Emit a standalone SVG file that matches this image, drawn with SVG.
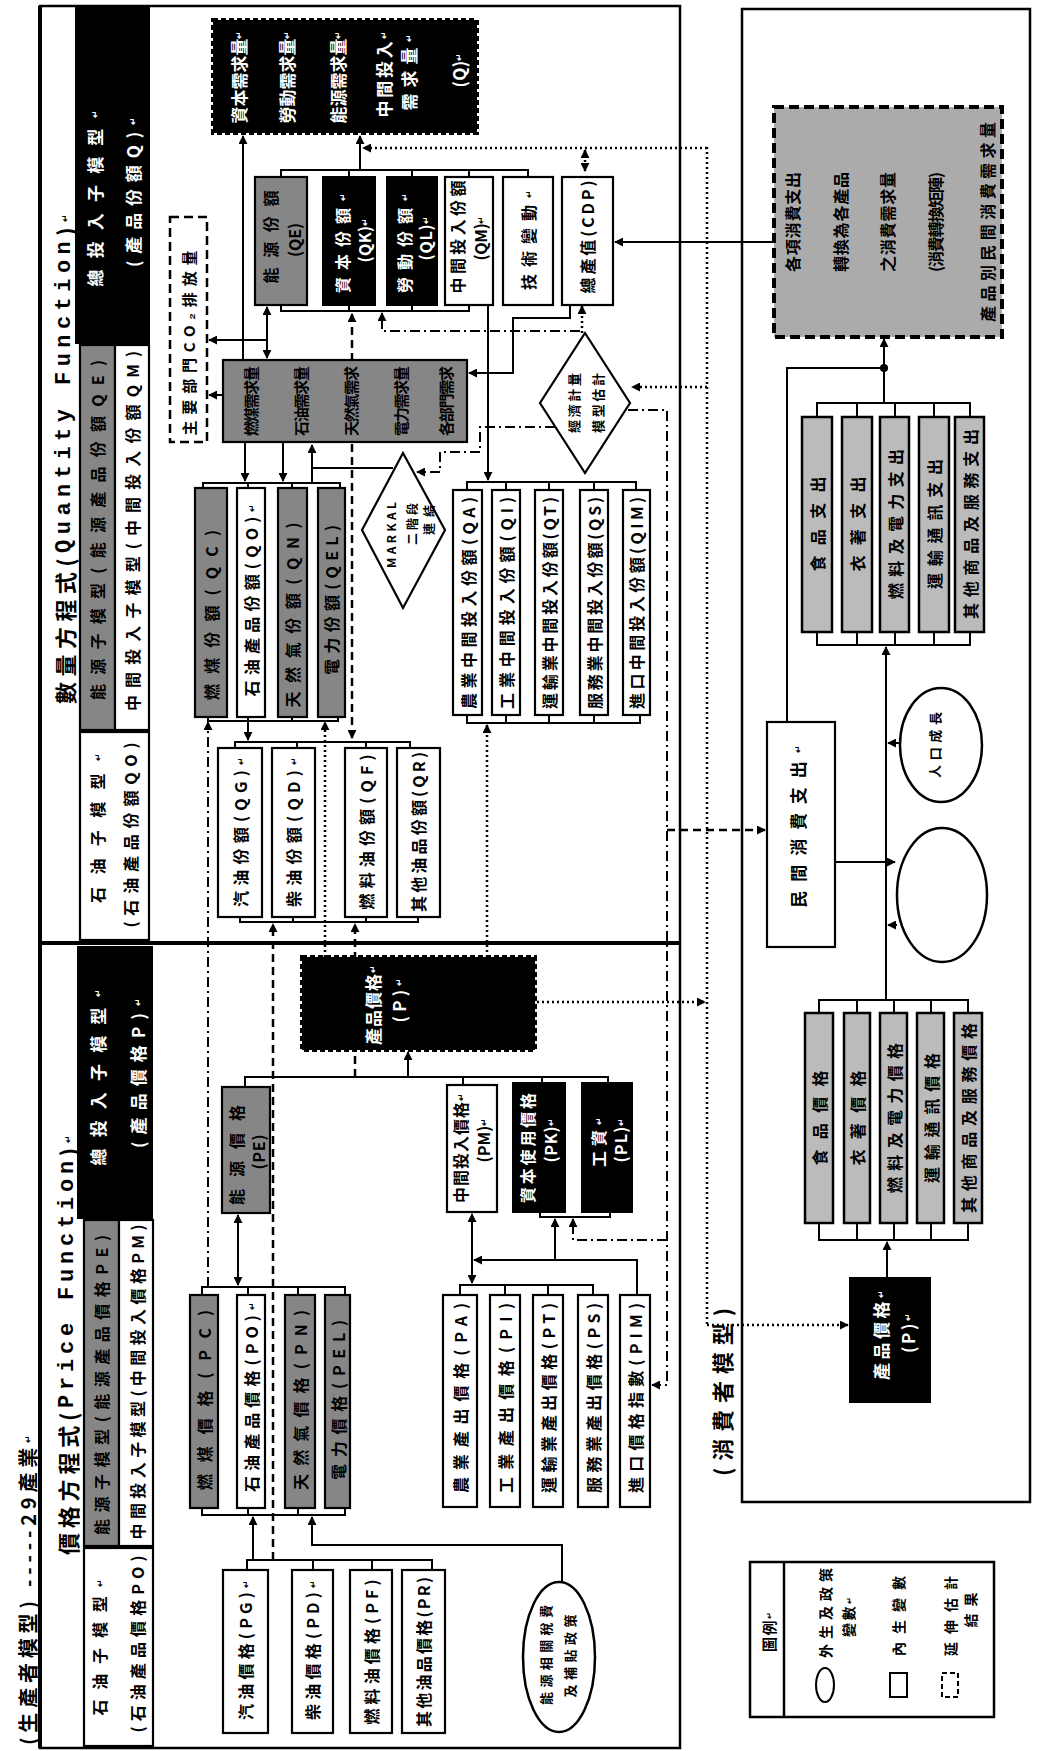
<svg xmlns="http://www.w3.org/2000/svg" width="1037" height="1751" viewBox="0 0 1037 1751">
<defs>
<marker id="a" viewBox="0 0 10 10" refX="9" refY="5" markerWidth="9" markerHeight="9" markerUnits="userSpaceOnUse" orient="auto-start-reverse"><path d="M0,0 L10,5 L0,10 z" fill="#000"/></marker>
</defs>
<style>
text{font-family:"Noto Sans CJK TC","Noto Sans CJK SC",sans-serif;font-weight:700;dominant-baseline:central;text-anchor:middle;fill:#000}
.w{fill:#fff}
.m{font-family:"Liberation Mono",monospace}
.bx{fill:#fff;stroke:#000;stroke-width:2.2}
.bk{fill:#000;stroke:#000;stroke-width:2}
.jag{fill:#000;stroke:#000;stroke-width:4;stroke-dasharray:5 3}
.gy{fill:#868686;stroke:#000;stroke-width:2.2}
.gc{fill:#bbbbbb;stroke:#000;stroke-width:2.5}
.ln{fill:none;stroke:#000;stroke-width:2}
.dot{stroke-dasharray:2 3;stroke-width:2.5}
.dsh{stroke-dasharray:8 5;stroke-width:2.5}
.dd{stroke-dasharray:10 4 2 4}
.ar{marker-end:url(#a)}
.ar2{marker-start:url(#a);marker-end:url(#a)}
.fr{fill:none;stroke:#000;stroke-width:2.5}
</style>
<rect width="1037" height="1751" fill="#fff"/>

<g id="frames">
<rect class="fr" x="40" y="6" width="640" height="1742"/>
<line x1="40" y1="6" x2="40" y2="1748" stroke="#000" stroke-width="4"/>
<line x1="40" y1="943" x2="680" y2="943" stroke="#000" stroke-width="4"/>
<rect class="fr" x="742" y="9" width="288" height="1493"/>
</g>

<g id="titles">
<text transform="translate(27,1590) rotate(-90)" font-size="20" textLength="310">(生產者模型) -----29產業<tspan font-size="9">↵</tspan></text>
<text transform="translate(64,459) rotate(-90)" font-size="22" textLength="490">數量方程式(<tspan class="m">Quantity Function</tspan>)<tspan font-size="9">↵</tspan></text>
<text transform="translate(67,1345) rotate(-90)" font-size="22" textLength="420">價格方程式(<tspan class="m">Price Function</tspan>)<tspan font-size="9">↵</tspan></text>
<text transform="translate(721,1392) rotate(-90)" font-size="22" textLength="168">(消費者模型)</text>
</g>

<g id="headers">
<rect class="bk" x="76" y="8" width="73" height="335"/>
<text class="w" transform="translate(94,198) rotate(-90)" font-size="17" textLength="177">總投入子模型<tspan font-size="9">↵</tspan></text>
<text class="w" transform="translate(132,192) rotate(-90)" font-size="17" textLength="150">(產品份額Q)<tspan font-size="9">↵</tspan></text>
<rect class="gy" x="80" y="345" width="35" height="385"/>
<text transform="translate(97,530) rotate(-90)" font-size="16" textLength="340">能源子模型(能源產品份額QE)</text>
<rect class="bx" x="115" y="345" width="34" height="385"/>
<text transform="translate(132,531) rotate(-90)" font-size="16" textLength="360">中間投入子模型(中間投入份額QM)</text>
<rect class="bx" x="80" y="732" width="69" height="208"/>
<text transform="translate(97,828) rotate(-90)" font-size="16" textLength="150">石油子模型<tspan font-size="9">↵</tspan></text>
<text transform="translate(130,835) rotate(-90)" font-size="16" textLength="185">(石油產品份額QO)</text>

<rect class="bk" x="78" y="947" width="74" height="271"/>
<text class="w" transform="translate(97,1077) rotate(-90)" font-size="17" textLength="177">總投入子模型<tspan font-size="9">↵</tspan></text>
<text class="w" transform="translate(137,1073) rotate(-90)" font-size="17" textLength="150">(產品價格P)<tspan font-size="9">↵</tspan></text>
<rect class="gy" x="84" y="1220" width="35" height="326"/>
<text transform="translate(101,1385) rotate(-90)" font-size="16" textLength="300">能源子模型(能源產品價格PE)</text>
<rect class="bx" x="119" y="1220" width="34" height="326"/>
<text transform="translate(137,1382) rotate(-90)" font-size="16" textLength="315">中間投入子模型(中間投入價格PM)</text>
<rect class="bx" x="84" y="1548" width="69" height="198"/>
<text transform="translate(99,1647) rotate(-90)" font-size="16" textLength="137">石油子模型<tspan font-size="9">↵</tspan></text>
<text transform="translate(137,1644) rotate(-90)" font-size="16" textLength="177">(石油產品價格PO)</text>
</g>

<g id="connectors">
<path class="ln ar" d="M243,360V136"/>
<path class="ln ar" d="M360,170V136"/>
<path class="ln" d="M281,177V170H528V177M349,170V177M412,170V177M469,170V177"/>
<path class="ln" d="M281,305V311H469V305M349,311V305M412,311V305"/>
<path class="ln ar2" d="M267,307V358"/>
<path class="ln ar" d="M267,340H209"/>
<path class="ln ar" d="M223,395H209"/>
<path class="ln ar" d="M245,442V481"/>
<path class="ln ar" d="M283,442V481"/>
<path class="ln ar" d="M312,483V445"/>
<path class="ln" d="M312,468H393"/>
<path class="ln" d="M203,488V483H340V488M248,483V488M292,483V488"/>
<path class="ln" d="M208,717V721H338V717M248,721V717M292,721V717"/>
<path class="ln ar" d="M248,721V740"/>
<path class="ln" d="M235,748V742H410V748M297,742V748M366,742V748"/>
<path class="ln" d="M240,917V922H418V917M293,922V917M366,922V917"/>
<path class="ln ar" d="M488,305V480"/>
<path class="ln" d="M467,490V482H636V490M506,482V490M549,482V490M594,482V490"/>
<path class="ln" d="M467,715V723H640V715M506,723V715M549,723V715M594,723V715"/>
<path class="ln ar" d="M570,305V318H513V373H469"/>
<path class="ln ar" d="M774,242H615"/>

<path class="ln ar" d="M408,1077V1052"/>
<path class="ln" d="M245,1087V1077H608V1083M463,1077V1085M542,1077V1083"/>
<path class="ln ar2" d="M238,1215V1285"/>
<path class="ln" d="M202,1295V1287H345V1295M248,1287V1295M298,1287V1295"/>
<path class="ln" d="M202,1508V1515H345V1508M248,1515V1508M298,1515V1508"/>
<path class="ln ar" d="M253,1560V1517"/>
<path class="ln" d="M247,1570V1560H432V1570M313,1560V1570M372,1560V1570"/>
<path class="ln ar" d="M562,1582V1545H312V1517"/>
<path class="ln ar2" d="M472,1214V1283"/>
<path class="ln" d="M460,1295V1285H593V1295M505,1285V1295M548,1285V1295"/>
<path class="ln ar" d="M637,1295V1260H474"/>
<path class="ln ar" d="M555,1260V1219"/>
<path class="ln" d="M540,1212V1217H610V1212"/>

<path class="ln ar" d="M884,403V339"/>
<path class="ln" d="M787,722V368H884"/>
<circle cx="884" cy="368" r="4"/>
<path class="ln" d="M817,417V403H970V417M857,403V417M895,403V417M934,403V417"/>
<path class="ln" d="M817,632V645H970V632M857,645V632M895,645V632M934,645V632"/>
<path class="ln ar" d="M886,1000V647" stroke-width="3"/>
<path class="ln ar" d="M900,743H888"/>
<path class="ln ar" d="M897,925H888"/>
<path class="ln ar" d="M835,862H895"/>
<path class="ln" d="M819,1013V1000H968V1013M857,1000V1013M894,1000V1013M931,1000V1013"/>
<path class="ln" d="M819,1223V1240H968V1223M857,1240V1223M894,1240V1223M931,1240V1223"/>
<path class="ln ar" d="M887,1278V1242"/>

<path class="ln dot" d="M707,147V1325"/>
<path class="ln dot ar" d="M707,148H363"/>
<path class="ln dot ar2" d="M585,150V171"/>
<path class="ln dot ar" d="M707,387H632"/>
<path class="ln dot ar" d="M537,1002H705"/>
<path class="ln dot ar" d="M707,1325H848"/>
<path class="ln dot ar" d="M582,333V306"/>
<path class="ln dot ar" d="M487,957V725"/>
<path class="ln dot ar" d="M325,957V722"/>

<path class="ln dsh ar" d="M273,1560V924"/>
<path class="ln dsh ar2" d="M352,738V314"/>
<path class="ln dsh ar" d="M355,1077V924"/>
<path class="ln dsh ar" d="M667,830H765"/>

<path class="ln dd ar" d="M208,1287V722"/>
<path class="ln dd ar" d="M580,331H382V313"/>
<path class="ln dd ar" d="M628,410H667V1385H652"/>
<path class="ln dd ar" d="M667,1240H573V1219"/>
<path class="ln dd ar" d="M555,427H480V452H440V472H417"/>
</g>

<g id="n-qout">
<rect class="jag" x="213" y="20" width="264" height="113"/>
<text class="w" transform="translate(238,77) rotate(-90)" font-size="17" textLength="93">資本需求量<tspan font-size="9">↵</tspan></text>
<text class="w" transform="translate(286,77) rotate(-90)" font-size="17" textLength="93">勞動需求量<tspan font-size="9">↵</tspan></text>
<text class="w" transform="translate(337,77) rotate(-90)" font-size="17" textLength="93">能源需求量<tspan font-size="9">↵</tspan></text>
<text class="w" transform="translate(383,74) rotate(-90)" font-size="17" textLength="87">中間投入<tspan font-size="9">↵</tspan></text>
<text class="w" transform="translate(408,72) rotate(-90)" font-size="17" textLength="77">需求量<tspan font-size="9">↵</tspan></text>
<text class="w" transform="translate(458,70) rotate(-90)" font-size="17" textLength="35">(Q)<tspan font-size="9">↵</tspan></text>
</g>
<g id="n-co2">
<rect x="170" y="217" width="37" height="225" fill="#fff" stroke="#000" stroke-width="2.5" stroke-dasharray="9 5"/>
<text transform="translate(188,343) rotate(-90)" font-size="15" textLength="185">主要部門CO₂排放量</text>
</g>
<g id="n-qe"><rect class="gy" x="255" y="177" width="52" height="128"/>
<text transform="translate(270,237) rotate(-90)" font-size="16" textLength="93">能源份額</text>
<text transform="translate(294,240) rotate(-90)" font-size="16" textLength="34">(QE)</text></g>
<g id="n-qk"><rect class="bk" x="323" y="177" width="52" height="128"/>
<text class="w" transform="translate(342,243) rotate(-90)" font-size="16" textLength="100">資本份額<tspan font-size="9">↵</tspan></text>
<text class="w" transform="translate(364,240) rotate(-90)" font-size="16" textLength="45">(QK)<tspan font-size="9">↵</tspan></text></g>
<g id="n-ql"><rect class="bk" x="387" y="177" width="50" height="128"/>
<text class="w" transform="translate(404,243) rotate(-90)" font-size="16" textLength="100">勞動份額<tspan font-size="9">↵</tspan></text>
<text class="w" transform="translate(425,238) rotate(-90)" font-size="16" textLength="45">(QL)<tspan font-size="9">↵</tspan></text></g>
<g id="n-qm"><rect class="bx" x="445" y="177" width="48" height="128"/>
<text transform="translate(457,237) rotate(-90)" font-size="16" textLength="113">中間投入份額</text>
<text transform="translate(480,238) rotate(-90)" font-size="16" textLength="45">(QM)<tspan font-size="9">↵</tspan></text></g>
<g id="n-tech"><rect class="bx" x="503" y="177" width="50" height="128"/>
<text transform="translate(528,240) rotate(-90)" font-size="16" textLength="100">技術變動<tspan font-size="9">↵</tspan></text></g>
<g id="n-cdp"><rect class="bx" x="562" y="177" width="51" height="128"/>
<text transform="translate(587,237) rotate(-90)" font-size="16" textLength="113">總產值(CDP)</text></g>

<g id="n-gray"><rect class="gy" x="223" y="360" width="244" height="82"/>
<text transform="translate(250,401) rotate(-90)" font-size="15" textLength="70">燃煤需求量</text>
<text transform="translate(300,401) rotate(-90)" font-size="15" textLength="70">石油需求量</text>
<text transform="translate(350,401) rotate(-90)" font-size="15" textLength="70">天然氣需求</text>
<text transform="translate(400,401) rotate(-90)" font-size="15" textLength="70">電力需求量</text>
<text transform="translate(445,401) rotate(-90)" font-size="15" textLength="70">各部門需求</text>
</g>

<g id="n-qc"><rect class="gy" x="195" y="488" width="32" height="229"/>
<text transform="translate(211,615) rotate(-90)" font-size="16" textLength="170">燃煤份額(QC)</text></g>
<g id="n-qo"><rect class="bx" x="237" y="488" width="28" height="229"/>
<text transform="translate(251,600) rotate(-90)" font-size="16" textLength="193">石油產品份額(QO)<tspan font-size="9">↵</tspan></text></g>
<g id="n-qn"><rect class="gy" x="278" y="488" width="29" height="229"/>
<text transform="translate(292,615) rotate(-90)" font-size="16" textLength="185">天然氣份額(QN)</text></g>
<g id="n-qel"><rect class="gy" x="318" y="488" width="27" height="229"/>
<text transform="translate(331,600) rotate(-90)" font-size="16" textLength="150">電力份額(QEL)</text></g>

<g id="n-qg"><rect class="bx" x="218" y="748" width="44" height="169"/>
<text transform="translate(240,832) rotate(-90)" font-size="16" textLength="150">汽油份額(QG)<tspan font-size="9">↵</tspan></text></g>
<g id="n-qd"><rect class="bx" x="272" y="748" width="43" height="169"/>
<text transform="translate(293,832) rotate(-90)" font-size="16" textLength="150">柴油份額(QD)<tspan font-size="9">↵</tspan></text></g>
<g id="n-qf"><rect class="bx" x="345" y="748" width="42" height="169"/>
<text transform="translate(366,832) rotate(-90)" font-size="16" textLength="155">燃料油份額(QF)</text></g>
<g id="n-qr"><rect class="bx" x="397" y="748" width="43" height="169"/>
<text transform="translate(418,832) rotate(-90)" font-size="16" textLength="160">其他油品份額(QR)</text></g>

<g id="n-markal"><polygon points="403,453 445,530 403,608 362,530" fill="#fff" stroke="#000" stroke-width="2.2"/>
<text transform="translate(390,535) rotate(-90)" font-size="12" textLength="66">MARKAL</text>
<text transform="translate(411,524) rotate(-90)" font-size="12" textLength="42">二階段</text>
<text transform="translate(428,520) rotate(-90)" font-size="12" textLength="30">連結</text></g>
<g id="n-dia2"><polygon points="585,333 630,403 585,473 540,403" fill="#fff" stroke="#000" stroke-width="2.2"/>
<text transform="translate(573,403) rotate(-90)" font-size="13" textLength="60">經濟計量</text>
<text transform="translate(597,403) rotate(-90)" font-size="13" textLength="60">模型估計</text></g>

<g id="n-qa"><rect class="bx" x="453" y="490" width="29" height="225"/>
<text transform="translate(468,603) rotate(-90)" font-size="16" textLength="212">農業中間投入份額(QA)</text></g>
<g id="n-qi"><rect class="bx" x="492" y="490" width="28" height="225"/>
<text transform="translate(506,603) rotate(-90)" font-size="16" textLength="212">工業中間投入份額(QI)</text></g>
<g id="n-qt"><rect class="bx" x="535" y="490" width="28" height="225"/>
<text transform="translate(549,603) rotate(-90)" font-size="16" textLength="212">運輸業中間投入份額(QT)</text></g>
<g id="n-qs"><rect class="bx" x="580" y="490" width="28" height="225"/>
<text transform="translate(594,603) rotate(-90)" font-size="16" textLength="212">服務業中間投入份額(QS)</text></g>
<g id="n-qim"><rect class="bx" x="623" y="490" width="27" height="225"/>
<text transform="translate(636,603) rotate(-90)" font-size="16" textLength="212">進口中間投入份額(QIM)</text></g>

<g id="n-p"><rect class="jag" x="302" y="957" width="233" height="93"/>
<text class="w" transform="translate(372,1005) rotate(-90)" font-size="17" textLength="80">產品價格<tspan font-size="9">↵</tspan></text>
<text class="w" transform="translate(398,1000) rotate(-90)" font-size="17" textLength="45">(P)<tspan font-size="9">↵</tspan></text></g>
<g id="n-pe"><rect class="gy" x="222" y="1087" width="48" height="126"/>
<text transform="translate(236,1155) rotate(-90)" font-size="16" textLength="100">能源價格</text>
<text transform="translate(258,1152) rotate(-90)" font-size="16" textLength="35">(PE)</text></g>
<g id="n-pm"><rect class="bx" x="447" y="1085" width="50" height="127"/>
<text transform="translate(460,1148) rotate(-90)" font-size="16" textLength="110">中間投入價格<tspan font-size="9">↵</tspan></text>
<text transform="translate(483,1140) rotate(-90)" font-size="16" textLength="45">(PM)<tspan font-size="9">↵</tspan></text></g>
<g id="n-pk"><rect class="bk" x="513" y="1083" width="52" height="129"/>
<text class="w" transform="translate(527,1148) rotate(-90)" font-size="16" textLength="110">資本使用價格</text>
<text class="w" transform="translate(550,1140) rotate(-90)" font-size="16" textLength="45">(PK)<tspan font-size="9">↵</tspan></text></g>
<g id="n-pl"><rect class="bk" x="582" y="1083" width="50" height="129"/>
<text class="w" transform="translate(598,1142) rotate(-90)" font-size="16" textLength="50">工資<tspan font-size="9">↵</tspan></text>
<text class="w" transform="translate(620,1140) rotate(-90)" font-size="16" textLength="45">(PL)<tspan font-size="9">↵</tspan></text></g>

<g id="n-pc"><rect class="gy" x="190" y="1295" width="28" height="213"/>
<text transform="translate(204,1400) rotate(-90)" font-size="16" textLength="180">燃煤價格(PC)</text></g>
<g id="n-po"><rect class="bx" x="237" y="1295" width="28" height="213"/>
<text transform="translate(251,1397) rotate(-90)" font-size="16" textLength="190">石油產品價格(PO)<tspan font-size="9">↵</tspan></text></g>
<g id="n-pn"><rect class="gy" x="285" y="1295" width="30" height="213"/>
<text transform="translate(300,1400) rotate(-90)" font-size="16" textLength="180">天然氣價格(PN)</text></g>
<g id="n-pel"><rect class="gy" x="325" y="1295" width="25" height="213"/>
<text transform="translate(338,1400) rotate(-90)" font-size="16" textLength="160">電力價格(PEL)</text></g>

<g id="n-pg"><rect class="bx" x="223" y="1570" width="45" height="163"/>
<text transform="translate(245,1650) rotate(-90)" font-size="16" textLength="140">汽油價格(PG)<tspan font-size="9">↵</tspan></text></g>
<g id="n-pd"><rect class="bx" x="292" y="1570" width="41" height="163"/>
<text transform="translate(312,1650) rotate(-90)" font-size="16" textLength="140">柴油價格(PD)<tspan font-size="9">↵</tspan></text></g>
<g id="n-pf"><rect class="bx" x="350" y="1570" width="42" height="163"/>
<text transform="translate(371,1652) rotate(-90)" font-size="16" textLength="145">燃料油價格(PF)</text></g>
<g id="n-pr"><rect class="bx" x="402" y="1570" width="43" height="163"/>
<text transform="translate(423,1652) rotate(-90)" font-size="16" textLength="150">其他油品價格(PR)</text></g>

<g id="n-pa"><rect class="bx" x="443" y="1295" width="34" height="212"/>
<text transform="translate(460,1398) rotate(-90)" font-size="16" textLength="190">農業產出價格(PA)</text></g>
<g id="n-pi"><rect class="bx" x="490" y="1295" width="30" height="212"/>
<text transform="translate(505,1398) rotate(-90)" font-size="16" textLength="190">工業產出價格(PI)</text></g>
<g id="n-pt"><rect class="bx" x="533" y="1295" width="30" height="212"/>
<text transform="translate(548,1398) rotate(-90)" font-size="16" textLength="190">運輸業產出價格(PT)</text></g>
<g id="n-ps"><rect class="bx" x="578" y="1295" width="30" height="212"/>
<text transform="translate(593,1398) rotate(-90)" font-size="16" textLength="190">服務業產出價格(PS)</text></g>
<g id="n-pim"><rect class="bx" x="620" y="1295" width="30" height="212"/>
<text transform="translate(635,1398) rotate(-90)" font-size="16" textLength="190">進口價格指數(PIM)</text></g>

<g id="n-policy"><ellipse cx="559" cy="1657" rx="36" ry="75" fill="#fff" stroke="#000" stroke-width="2.5"/>
<text transform="translate(545,1655) rotate(-90)" font-size="13" textLength="100">能源相關稅費</text>
<text transform="translate(569,1656) rotate(-90)" font-size="13" textLength="83">及補貼政策</text></g>

<g id="n-cgray"><rect x="774" y="107" width="228" height="230" fill="#ababab" stroke="#000" stroke-width="4" stroke-dasharray="10 5"/>
<text transform="translate(792,222) rotate(-90)" font-size="16" textLength="100">各項消費支出</text>
<text transform="translate(840,222) rotate(-90)" font-size="16" textLength="100">轉換為各產品</text>
<text transform="translate(887,222) rotate(-90)" font-size="16" textLength="100">之消費需求量</text>
<text transform="translate(935,222) rotate(-90)" font-size="16" textLength="100">(消費轉換矩陣)</text>
<text transform="translate(987,222) rotate(-90)" font-size="16" textLength="200">產品別民間消費需求量</text></g>

<g id="n-cu1"><rect class="gc" x="802" y="417" width="30" height="215"/><text transform="translate(817,524) rotate(-90)" font-size="16" textLength="95">食品支出</text></g>
<g id="n-cu2"><rect class="gc" x="842" y="417" width="30" height="215"/><text transform="translate(857,524) rotate(-90)" font-size="16" textLength="95">衣著支出</text></g>
<g id="n-cu3"><rect class="gc" x="880" y="417" width="29" height="215"/><text transform="translate(895,524) rotate(-90)" font-size="16" textLength="150">燃料及電力支出</text></g>
<g id="n-cu4"><rect class="gc" x="919" y="417" width="30" height="215"/><text transform="translate(934,524) rotate(-90)" font-size="16" textLength="130">運輸通訊支出</text></g>
<g id="n-cu5"><rect class="gc" x="955" y="417" width="29" height="215"/><text transform="translate(970,524) rotate(-90)" font-size="16" textLength="190">其他商品及服務支出</text></g>

<g id="n-cons"><rect class="bx" x="767" y="722" width="68" height="225"/>
<text transform="translate(797,826) rotate(-90)" font-size="17" textLength="163">民間消費支出<tspan font-size="9">↵</tspan></text></g>
<g id="n-pop"><ellipse cx="941" cy="745" rx="41" ry="57" fill="#fff" stroke="#000" stroke-width="2.5"/>
<text transform="translate(934,745) rotate(-90)" font-size="13" textLength="66">人口成長</text></g>
<g id="n-ell2"><ellipse cx="942" cy="895" rx="45" ry="67" fill="#fff" stroke="#000" stroke-width="2.5"/></g>

<g id="n-cl1"><rect class="gc" x="805" y="1013" width="28" height="210"/><text transform="translate(819,1118) rotate(-90)" font-size="16" textLength="95">食品價格</text></g>
<g id="n-cl2"><rect class="gc" x="844" y="1013" width="26" height="210"/><text transform="translate(857,1118) rotate(-90)" font-size="16" textLength="95">衣著價格</text></g>
<g id="n-cl3"><rect class="gc" x="880" y="1013" width="27" height="210"/><text transform="translate(894,1118) rotate(-90)" font-size="16" textLength="150">燃料及電力價格</text></g>
<g id="n-cl4"><rect class="gc" x="917" y="1013" width="27" height="210"/><text transform="translate(931,1118) rotate(-90)" font-size="16" textLength="130">運輸通訊價格</text></g>
<g id="n-cl5"><rect class="gc" x="954" y="1013" width="28" height="210"/><text transform="translate(968,1118) rotate(-90)" font-size="16" textLength="190">其他商品及服務價格</text></g>

<g id="n-cp"><rect class="bk" x="850" y="1278" width="80" height="124"/>
<text class="w" transform="translate(880,1335) rotate(-90)" font-size="17" textLength="90">產品價格<tspan font-size="9">↵</tspan></text>
<text class="w" transform="translate(907,1333) rotate(-90)" font-size="17" textLength="40">(P)<tspan font-size="9">↵</tspan></text></g>

<g id="legend">
<rect x="750" y="1562" width="244" height="155" fill="#fff" stroke="#000" stroke-width="2.5"/>
<line x1="784" y1="1562" x2="784" y2="1717" stroke="#000" stroke-width="2.5"/>
<text transform="translate(768,1632) rotate(-90)" font-size="15" textLength="40">圖例<tspan font-size="8">↵</tspan></text>
<ellipse cx="825" cy="1685" rx="9" ry="17" fill="#fff" stroke="#000" stroke-width="2"/>
<text transform="translate(825,1613) rotate(-90)" font-size="14" textLength="90">外生及政策</text>
<text transform="translate(848,1617) rotate(-90)" font-size="14" textLength="40">變數<tspan font-size="8">↵</tspan></text>
<rect x="890" y="1673" width="17" height="24" fill="#fff" stroke="#000" stroke-width="2"/>
<text transform="translate(898,1616) rotate(-90)" font-size="14" textLength="80">內生變數</text>
<rect x="942" y="1673" width="16" height="24" fill="#fff" stroke="#000" stroke-width="2" stroke-dasharray="5 3"/>
<text transform="translate(950,1616) rotate(-90)" font-size="14" textLength="80">延伸估計</text>
<text transform="translate(970,1610) rotate(-90)" font-size="14" textLength="35">結果</text>
</g>
</svg>
